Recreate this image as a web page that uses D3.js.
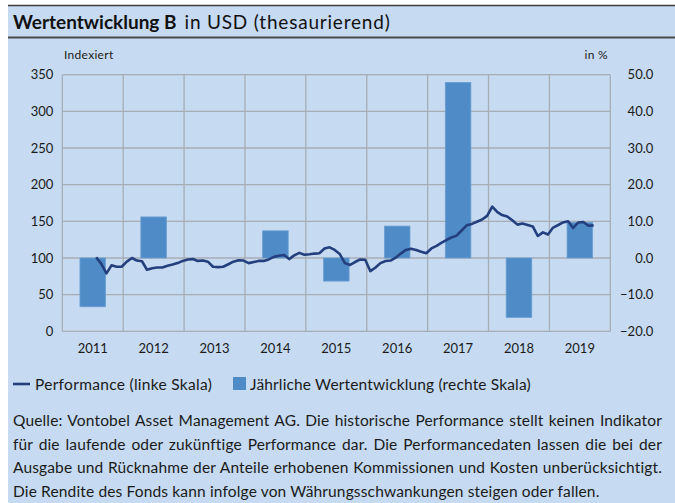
<!DOCTYPE html>
<html><head><meta charset="utf-8">
<script src="https://cdn.jsdelivr.net/npm/d3@7"></script>
<style>
body{margin:0;background:#fff;}
#wrap{position:relative;width:675px;height:503px;overflow:hidden;}
svg{display:block;font-family:Lato,"Open Sans",sans-serif;}
#foot{position:absolute;left:13px;top:409px;width:649px;font-family:Lato,"Open Sans",sans-serif;font-size:15.5px;letter-spacing:0.15px;line-height:23.7px;color:#1a1a1a;}
#foot div{white-space:nowrap;}
#foot div.j{text-align:justify;text-align-last:justify;white-space:normal;}
</style></head><body>
<div id="wrap">
<svg id="c" width="675" height="503"></svg>
<div id="foot"></div>
</div>
<script>
const years = ["2011","2012","2013","2014","2015","2016","2017","2018","2019"];
const annualReturns = [-13.3, 11.2, 0, 7.4, -6.3, 8.7, 47.9, -16.2, 9.7];
const perfMonths = [
"2011-07","2011-08","2011-09","2011-10","2011-11","2011-12",
"2012-01","2012-02","2012-03","2012-04","2012-05","2012-06","2012-07","2012-08","2012-09","2012-10","2012-11","2012-12",
"2013-01","2013-02","2013-03","2013-04","2013-05","2013-06","2013-07","2013-08","2013-09","2013-10","2013-11","2013-12",
"2014-01","2014-02","2014-03","2014-04","2014-05","2014-06","2014-07","2014-08","2014-09","2014-10","2014-11","2014-12",
"2015-01","2015-02","2015-03","2015-04","2015-05","2015-06","2015-07","2015-08","2015-09","2015-10","2015-11","2015-12",
"2016-01","2016-02","2016-03","2016-04","2016-05","2016-06","2016-07","2016-08","2016-09","2016-10","2016-11","2016-12",
"2017-01","2017-02","2017-03","2017-04","2017-05","2017-06","2017-07","2017-08","2017-09","2017-10","2017-11","2017-12",
"2018-01","2018-02","2018-03","2018-04","2018-05","2018-06","2018-07","2018-08","2018-09","2018-10","2018-11","2018-12",
"2019-01","2019-02","2019-03","2019-04","2019-05","2019-06","2019-07","2019-08","2019-09"];
const perfValues = [
101, 92, 79, 90, 88, 88,
95, 100, 96.5, 95.5, 84, 86, 87, 87, 89.5, 91, 93, 96,
98, 98.5, 96, 96.5, 95, 88, 87.5, 88, 91.5, 95, 97, 96.5,
93, 94.5, 96, 96, 98, 101.5, 103, 104, 98.5, 103.5, 107, 104.5,
105, 106, 106.5, 113, 114.5, 111, 105.5, 93, 90.5, 94.5, 98, 97.5,
82, 87, 93, 95.8, 96.5, 100.5, 106, 111, 112.7, 111, 108.5, 106.5,
113, 116.5, 120.5, 124.5, 128, 130.5, 137.5, 144.5, 146.5, 149.5, 152.5, 157.5,
170, 162.5, 158.5, 156.5, 151.5, 145.5, 147, 145, 143, 130, 135, 132,
141.5, 145, 148.5, 150, 141, 148.5, 149, 144, 144.5];
const leftTicks = [0, 50, 100, 150, 200, 250, 300, 350];
const rightTicks = [-20, -10, 0, 10, 20, 30, 40, 50];
const titleBold = "Wertentwicklung B";
const titleRest = "in USD (thesaurierend)";
const leftLabel = "Indexiert";
const rightLabel = "in %";
const legendItems = ["Performance (linke Skala)", "Jährliche Wertentwicklung (rechte Skala)"];
const footLines = [
"Quelle: Vontobel Asset Management AG. Die historische Performance stellt keinen Indikator",
"für die laufende oder zukünftige Performance dar. Die Performancedaten lassen die bei der",
"Ausgabe und Rücknahme der Anteile erhobenen Kommissionen und Kosten unberücksichtigt.",
"Die Rendite des Fonds kann infolge von Währungsschwankungen steigen oder fallen."];

const BG = "#c6daf1", BAR = "#4f8bc7", LINE = "#233f7d", GRID = "#a7adb5", TXT = "#1a1a1a";
const svg = d3.select("#c");
const L = 62.3, R = 610.3, T = 74.7, B = 331.3;

svg.append("rect").attr("x", 8).attr("y", 5).attr("width", 667).attr("height", 498).attr("fill", BG);
svg.append("line").attr("x1", 8).attr("x2", 675).attr("y1", 5.5).attr("y2", 5.5).attr("stroke", "#3c3c3c").attr("stroke-width", 1.5);
svg.append("line").attr("x1", 8).attr("x2", 675).attr("y1", 37.5).attr("y2", 37.5).attr("stroke", "#4a4a4a").attr("stroke-width", 2);

const title = svg.append("text").attr("x", 13).attr("y", 28.5).attr("fill", "#111").style("font-size", "19px");
title.append("tspan").attr("font-weight", "bold").text(titleBold);
title.append("tspan").attr("dx", 8).style("letter-spacing", "0.8px").text(titleRest);

const yL = d3.scaleLinear().domain([0, 350]).range([B, T]);
const yR = d3.scaleLinear().domain([-20, 50]).range([B, T]);
const xb = d3.scaleBand().domain(years).range([L, R]).padding(0);
const xt = d3.scaleTime().domain([new Date(2011, 0, 1), new Date(2020, 0, 1)]).range([L, R]);
const parse = d3.timeParse("%Y-%m");

// grid
const g = svg.append("g");
g.selectAll("line.h").data(leftTicks).join("line")
  .attr("x1", L).attr("x2", R).attr("y1", d => yL(d)).attr("y2", d => yL(d))
  .attr("stroke", GRID).attr("stroke-width", 1.3);
const vb = years.map(y => xb(y)).concat([R]);
g.selectAll("line.v").data(vb).join("line")
  .attr("x1", d => d).attr("x2", d => d).attr("y1", T).attr("y2", B)
  .attr("stroke", GRID).attr("stroke-width", 1.3);

// axes
const axL = svg.append("g").attr("transform", `translate(${L},0)`)
  .call(d3.axisLeft(yL).tickValues(leftTicks).tickSize(0).tickPadding(9).tickFormat(d3.format("d")));
const axR = svg.append("g").attr("transform", `translate(${R},0)`)
  .call(d3.axisRight(yR).tickValues(rightTicks).tickSize(0).tickPadding(43).tickFormat(d3.format(".1f")));
axR.selectAll("text").attr("text-anchor", "end");
const axB = svg.append("g").attr("transform", `translate(0,${B})`)
  .call(d3.axisBottom(xb).tickSize(0).tickPadding(12));
[axL, axR, axB].forEach(a => {
  a.select(".domain").remove();
  a.selectAll("text").attr("fill", TXT).style("font-size", "13px").style("font-family", "Lato");
});

svg.append("text").attr("x", 64).attr("y", 59).attr("fill", TXT).style("font-size", "12px").style("letter-spacing", "0.3px").text(leftLabel);
svg.append("text").attr("x", 608).attr("y", 59).attr("text-anchor", "end").attr("fill", TXT).style("font-size", "12px").style("letter-spacing", "0.3px").text(rightLabel);

// bars
const bw = xb.bandwidth() * 0.42;
svg.append("g").selectAll("rect").data(years.map((y, i) => ({y, v: annualReturns[i]}))).join("rect")
  .attr("x", d => xb(d.y) + (xb.bandwidth() - bw) / 2)
  .attr("width", bw)
  .attr("y", d => yR(Math.max(0, d.v)))
  .attr("height", d => Math.abs(yR(d.v) - yR(0)))
  .attr("fill", BAR).attr("stroke", "#6a9fd3").attr("stroke-width", 0.8);

// line
const pts = perfMonths.map((m, i) => ({d: d3.timeDay.offset(parse(m), 22), v: perfValues[i]}));
svg.append("path").datum(pts)
  .attr("d", d3.line().x(p => xt(p.d)).y(p => yL(p.v)))
  .attr("fill", "none").attr("stroke", LINE).attr("stroke-width", 2.6).attr("stroke-linejoin", "round");

// legend
const ly = 384;
svg.append("line").attr("x1", 13).attr("x2", 30).attr("y1", ly).attr("y2", ly).attr("stroke", LINE).attr("stroke-width", 2.6);
svg.append("text").attr("x", 35).attr("y", ly + 5.5).attr("fill", TXT).style("font-size", "15.5px").style("letter-spacing", "0.3px").text(legendItems[0]);
svg.append("rect").attr("x", 233).attr("y", ly - 7).attr("width", 13).attr("height", 13).attr("fill", BAR);
svg.append("text").attr("x", 250).attr("y", ly + 5.5).attr("fill", TXT).style("font-size", "15.5px").style("letter-spacing", "0.15px").text(legendItems[1]);

// footer
d3.select("#foot").selectAll("div").data(footLines).join("div")
  .attr("class", (d, i) => i < footLines.length - 1 ? "j" : null)
  .text(d => d);
</script>
</body></html>
